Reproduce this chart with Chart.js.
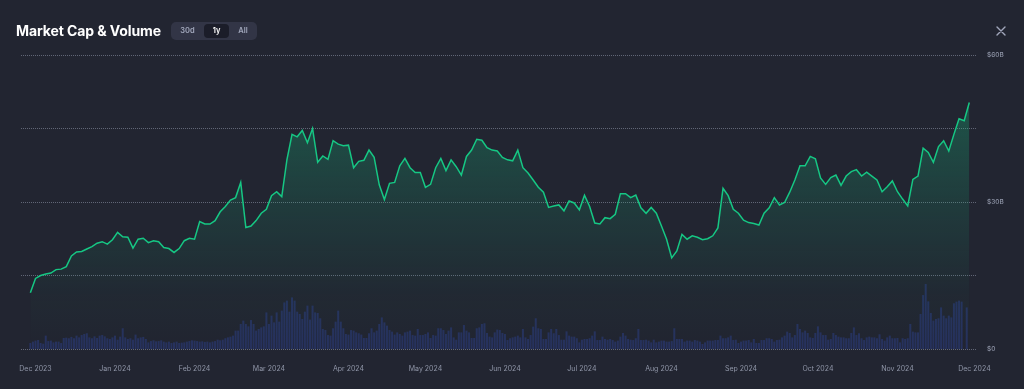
<!DOCTYPE html>
<html>
<head>
<meta charset="utf-8">
<script src="https://cdn.jsdelivr.net/npm/chart.js@4.4.1/dist/chart.umd.min.js"></script>
<style>
  html, body { margin: 0; padding: 0; background: #222531; }
  body { width: 1024px; height: 389px; position: relative; overflow: hidden; font-family: Inter, "Noto Sans", sans-serif; }
  #wrap { position: absolute; left: 0; top: 0; width: 1024px; height: 389px; }
  .title { position: absolute; left: 16px; top: 21px; color: #fff; font-size: 14px; font-weight: 700; line-height: 20px; letter-spacing: -0.1px; }
  .range { position: absolute; left: 171px; top: 22px; width: 86px; height: 18px; background: #323546; border-radius: 5px; }
  .range span { position: absolute; top: 2px; height: 14px; line-height: 14px; text-align: center; font-size: 7.5px; font-weight: 600; color: #a1a7bb; border-radius: 4px; }
  .range span.on { background: #1b1d29; color: #fff; }
  .close { position: absolute; left: 996px; top: 26px; }
</style>
</head>
<body>
<div id="wrap"><canvas id="chart"></canvas></div>
<div class="title">Market Cap &amp; Volume</div>
<div class="range">
  <span style="left:2px;width:29px">30d</span>
  <span class="on" style="left:33px;width:25px">1y</span>
  <span style="left:60px;width:24px">All</span>
</div>
<svg class="close" width="10" height="10" viewBox="0 0 10 10">
  <path d="M1 1L9 9M9 1L1 9" stroke="#a1a7bb" stroke-width="1.4" stroke-linecap="round"/>
</svg>
<script>
// x axis: days counted from 1 Dec 2023
const monthDays = [0, 31, 62, 91, 122, 152, 183, 213, 244, 275, 305, 336, 366];
const monthLabels = ['Dec 2023', 'Jan 2024', 'Feb 2024', 'Mar 2024', 'Apr 2024', 'May 2024', 'Jun 2024',
  'Jul 2024', 'Aug 2024', 'Sep 2024', 'Oct 2024', 'Nov 2024', 'Dec 2024'];

// market cap ($B), one value every 2 days starting at day -2
const capStart = -2;
const capStep = 2;
const marketCap = [
  11.5, 14.4, 15.0, 15.3, 15.5, 16.2, 16.3, 16.8, 19.0, 19.8,
  19.9, 20.4, 20.9, 21.6, 21.9, 21.4, 22.3, 23.8, 22.9, 22.8,
  20.6, 22.4, 22.6, 21.7, 22.1, 21.9, 20.7, 20.5, 19.7, 20.5,
  22.1, 22.6, 22.4, 26.0, 25.5, 25.5, 26.2, 28.0, 29.1, 30.4,
  30.9, 34.0, 24.8, 25.1, 26.2, 27.7, 28.5, 31.3, 32.1, 31.1,
  38.6, 43.8, 43.3, 44.6, 42.1, 45.0, 38.1, 39.4, 38.7, 42.5,
  41.8, 41.5, 41.6, 37.0, 38.3, 38.5, 40.6, 39.1, 33.5, 30.5,
  33.8, 34.0, 37.4, 38.9, 37.0, 36.0, 36.0, 33.0, 33.6, 37.0,
  38.9, 36.4, 38.6, 37.2, 35.5, 39.3, 40.6, 42.8, 42.6, 41.1,
  40.6, 40.4, 39.1, 38.6, 38.4, 40.6, 37.0, 35.9, 34.5, 33.0,
  32.0, 28.9, 29.2, 29.4, 28.2, 30.2, 29.8, 28.4, 31.4, 29.1,
  25.7, 25.5, 26.8, 26.6, 27.5, 31.7, 31.7, 30.9, 31.4, 28.8,
  27.7, 28.9, 27.7, 25.1, 22.4, 18.6, 20.0, 23.4, 22.4, 23.1,
  22.8, 22.3, 22.5, 23.1, 24.7, 32.8, 31.3, 28.5, 27.7, 26.3,
  25.8, 25.6, 25.3, 27.7, 28.8, 30.9, 29.4, 29.9, 32.0, 34.5,
  37.4, 37.4, 39.3, 38.8, 34.9, 33.6, 35.0, 35.5, 33.4, 35.3,
  36.2, 36.6, 35.3, 36.1, 35.3, 34.5, 32.1, 33.1, 34.3, 32.1,
  30.6, 29.2, 34.6, 35.3, 41.0, 40.1, 38.1, 41.3, 42.5, 40.4,
  43.8, 47.0, 46.6, 50.3
];

// daily volume ($B) starting at day -2
const volStart = -2;
const volume = [
  0.41, 0.50, 0.57, 0.61, 0.41, 0.36, 0.91, 0.54, 0.57, 0.45,
  0.50, 0.50, 0.41, 0.75, 0.77, 0.73, 0.82, 0.73, 0.91, 0.79,
  0.95, 1.02, 1.07, 0.79, 0.73, 0.86, 0.75, 0.91, 0.95, 0.86,
  0.73, 0.68, 0.79, 0.91, 0.63, 0.84, 1.41, 0.79, 0.68, 0.73,
  0.63, 0.98, 0.73, 0.79, 0.82, 0.68, 0.45, 0.54, 0.59, 0.52,
  0.54, 0.59, 0.50, 0.45, 0.50, 0.41, 0.45, 0.50, 0.41, 0.43,
  0.45, 0.50, 0.54, 0.59, 0.57, 0.54, 0.50, 0.52, 0.48, 0.50,
  0.45, 0.50, 0.54, 0.63, 0.59, 0.63, 0.73, 0.79, 0.84, 0.91,
  1.25, 1.25, 1.70, 1.93, 1.70, 1.54, 1.97, 1.70, 1.25, 1.36,
  1.47, 1.54, 2.49, 1.70, 2.27, 1.81, 2.49, 1.86, 2.61, 3.17,
  3.29, 2.54, 3.51, 3.29, 2.54, 2.38, 2.04, 2.54, 2.95, 2.00,
  2.95, 2.49, 2.45, 2.09, 1.36, 1.29, 0.95, 0.91, 1.41, 1.86,
  2.61, 1.86, 1.41, 1.02, 0.98, 1.29, 1.25, 1.13, 1.07, 0.98,
  0.75, 0.75, 1.07, 1.41, 1.13, 1.25, 1.70, 2.15, 1.81, 1.59,
  1.29, 1.18, 0.98, 1.13, 1.02, 0.91, 1.13, 1.18, 1.25, 0.95,
  0.91, 1.36, 0.95, 0.95, 1.02, 1.13, 0.75, 0.95, 0.91, 1.41,
  1.41, 1.29, 1.02, 1.25, 1.47, 0.79, 0.63, 1.13, 1.13, 1.63,
  1.25, 1.13, 0.75, 0.75, 1.41, 1.47, 1.70, 1.75, 1.09, 0.84,
  0.79, 1.13, 1.32, 1.29, 1.09, 1.02, 0.61, 0.73, 0.79, 0.84,
  0.91, 0.79, 1.36, 0.79, 0.68, 0.95, 1.52, 2.09, 1.41, 1.36,
  0.68, 0.68, 1.13, 1.36, 1.07, 1.36, 0.95, 0.63, 0.63, 1.20,
  0.91, 0.84, 0.84, 0.73, 0.45, 0.63, 0.68, 0.68, 0.73, 0.91,
  1.20, 0.61, 0.61, 0.84, 0.68, 0.63, 0.68, 0.61, 0.50, 0.57,
  0.84, 1.09, 0.91, 0.68, 0.63, 0.61, 0.73, 1.36, 0.61, 0.61,
  0.63, 0.57, 0.45, 0.63, 0.45, 0.50, 0.57, 0.57, 0.50, 0.50,
  0.54, 1.41, 0.68, 0.68, 0.68, 0.50, 0.57, 0.57, 0.50, 0.61,
  0.57, 0.50, 0.34, 0.45, 0.57, 0.57, 0.57, 0.61, 0.61, 0.91,
  0.73, 0.73, 0.79, 0.91, 0.61, 0.63, 0.41, 0.50, 0.57, 0.57,
  0.61, 0.45, 0.68, 0.41, 0.41, 0.61, 0.61, 0.73, 0.73, 0.68,
  0.50, 0.61, 0.63, 0.79, 0.91, 1.18, 1.09, 0.79, 0.95, 1.70,
  1.36, 1.13, 1.25, 1.09, 0.79, 0.75, 1.09, 1.54, 1.13, 0.95,
  0.95, 0.63, 0.68, 1.09, 0.95, 0.84, 0.79, 0.79, 0.73, 0.73,
  1.09, 1.47, 0.95, 1.07, 0.73, 0.61, 0.79, 0.84, 0.79, 0.79,
  0.73, 1.00, 0.68, 0.57, 0.79, 0.91, 0.73, 0.73, 0.75, 0.45,
  0.73, 0.68, 0.73, 1.70, 1.18, 1.13, 1.13, 2.38, 3.67, 4.42,
  3.24, 2.45, 1.93, 2.04, 2.09, 2.83, 2.27, 2.09, 2.27, 2.15,
  3.11, 3.22, 3.29, 3.22, 0, 2.83
];

const capTicks = [0, 15, 30, 45, 60];
const capTickLabels = { 0: '$0', 30: '$30B', 60: '$60B' };

const GREEN = '#16c784';
const TICK_COLOR = '#9096a8';

const capPoints = marketCap.map((v, i) => ({ x: capStart + i * capStep, y: v }));
const volPoints = volume.map((v, i) => ({ x: volStart + i, y: v }));

function fillGradient(ctx) {
  const { chart } = ctx;
  const area = chart.chartArea;
  if (!area) return 'transparent';
  const g = chart.ctx.createLinearGradient(0, area.top, 0, area.bottom);
  g.addColorStop(0, 'rgba(22,199,132,0.36)');
  g.addColorStop(0.5, 'rgba(22,199,132,0.14)');
  g.addColorStop(0.8, 'rgba(22,199,132,0.03)');
  g.addColorStop(1, 'rgba(22,199,132,0)');
  return g;
}

new Chart(document.getElementById('chart'), {
  type: 'bar',
  data: {
    datasets: [
      {
        type: 'line',
        label: 'Market Cap',
        data: capPoints,
        borderColor: GREEN,
        borderWidth: 1.5,
        pointRadius: 0,
        tension: 0,
        fill: 'origin',
        backgroundColor: fillGradient,
        yAxisID: 'y',
        order: 0
      },
      {
        type: 'bar',
        label: 'Volume',
        data: volPoints,
        backgroundColor: 'rgba(56,97,251,0.22)',
        barPercentage: 0.78,
        categoryPercentage: 1,
        yAxisID: 'vol',
        order: 1
      }
    ]
  },
  options: {
    responsive: true,
    maintainAspectRatio: false,
    animation: false,
    layout: { padding: { left: 21, top: 55, right: 0, bottom: 0 } },
    plugins: { legend: { display: false }, tooltip: { enabled: false } },
    scales: {
      x: {
        type: 'linear',
        min: -5.65,
        max: 367,
        offset: false,
        grid: { display: false },
        border: { display: false },
        afterBuildTicks: s => { s.ticks = monthDays.map(v => ({ value: v })); },
        afterFit: s => { s.height = 40; },
        ticks: {
          autoSkip: false,
          maxRotation: 0,
          padding: 8,
          color: TICK_COLOR,
          font: { family: 'Inter', size: 7 },
          callback: v => monthLabels[monthDays.indexOf(v)]
        }
      },
      y: {
        position: 'right',
        min: 0,
        max: 60,
        afterBuildTicks: s => { s.ticks = capTicks.map(v => ({ value: v })); },
        afterFit: s => { s.width = 47; },
        grid: { color: 'rgba(150,156,174,0.55)', lineWidth: 1, drawTicks: false },
        border: { display: false, dash: [1, 1] },
        ticks: {
          padding: 10,
          color: TICK_COLOR,
          font: { family: 'Inter', size: 6.5, weight: 500 },
          callback: v => capTickLabels[v] || ''
        }
      },
      vol: {
        display: false,
        min: 0,
        max: 20
      }
    }
  }
});
</script>
</body>
</html>
